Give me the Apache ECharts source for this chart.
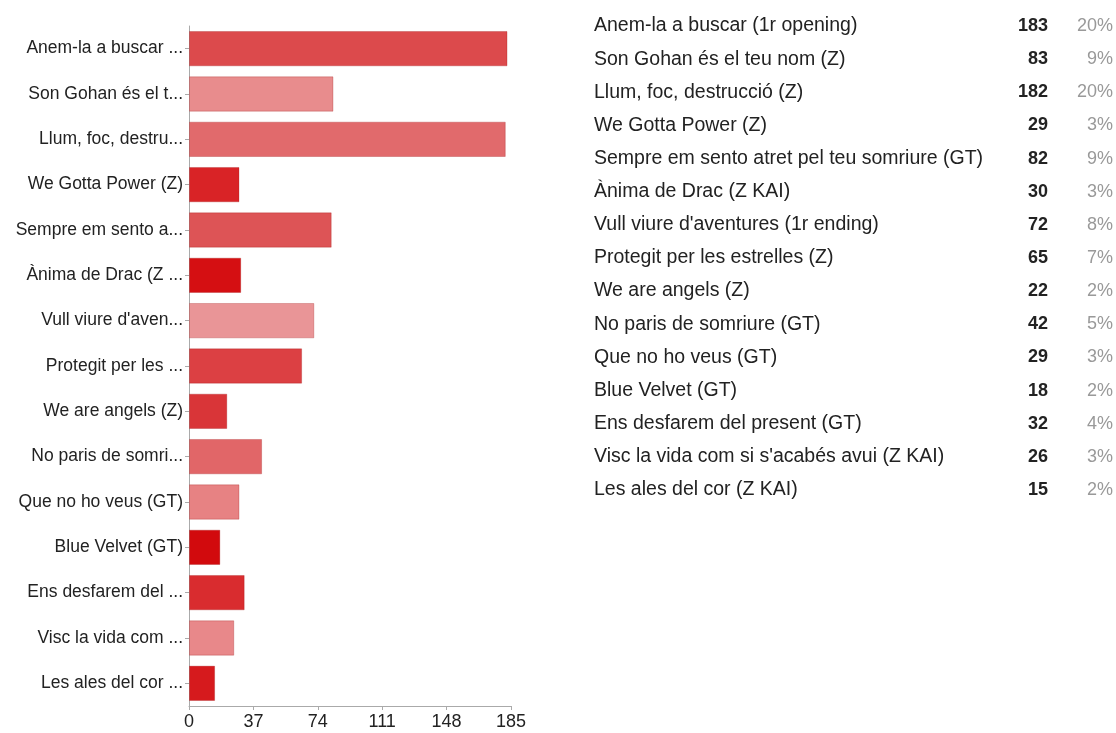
<!DOCTYPE html>
<html>
<head>
<meta charset="utf-8">
<script src="https://cdn.jsdelivr.net/npm/echarts@6/dist/echarts.min.js"></script>
<style>html,body{margin:0;padding:0;background:#fff}#c{width:1116px;height:733px}</style>
</head>
<body>
<div id="c"></div>
<script>
const shortLabels = ["Anem-la a buscar ...","Son Gohan és el t...","Llum, foc, destru...","We Gotta Power (Z)","Sempre em sento a...","Ànima de Drac (Z ...","Vull viure d'aven...","Protegit per les ...","We are angels (Z)","No paris de somri...","Que no ho veus (GT)","Blue Velvet (GT)","Ens desfarem del ...","Visc la vida com ...","Les ales del cor ..."];
const fullNames = ["Anem-la a buscar (1r opening)","Son Gohan és el teu nom (Z)","Llum, foc, destrucció (Z)","We Gotta Power (Z)","Sempre em sento atret pel teu somriure (GT)","Ànima de Drac (Z KAI)","Vull viure d'aventures (1r ending)","Protegit per les estrelles (Z)","We are angels (Z)","No paris de somriure (GT)","Que no ho veus (GT)","Blue Velvet (GT)","Ens desfarem del present (GT)","Visc la vida com si s'acabés avui (Z KAI)","Les ales del cor (Z KAI)"];
const votes = [183,83,182,29,82,30,72,65,22,42,29,18,32,26,15];
const percents = ["20%","9%","20%","3%","9%","3%","8%","7%","2%","5%","3%","2%","4%","3%","2%"];
const xTicks = [0,37,74,111,148,185];
const barColors = ["#dc4a4c","#e88c8d","#e16a6c","#d92326","#dd5456","#d50f12","#e99597","#dc4043","#d93538","#e16668","#e78283","#d20a0d","#d92c2f","#e8888a","#d61a1d"];

const FONT = '"Liberation Sans", Arial, sans-serif';
const chart = echarts.init(document.getElementById('c'));
const rowY0 = 26, rowStep = 33.14;
const graphics = [];
fullNames.forEach((n, i) => {
  const y = rowY0 + rowStep * i;
  graphics.push({type:'text', x:594, y:y, style:{text:n, font:'19.5px ' + FONT, fill:'#222', align:'left', verticalAlign:'middle'}});
  graphics.push({type:'text', x:1048, y:y, style:{text:String(votes[i]), font:'bold 18px ' + FONT, fill:'#222', align:'right', verticalAlign:'middle'}});
  graphics.push({type:'text', x:1113, y:y, style:{text:percents[i], font:'18px ' + FONT, fill:'#999', align:'right', verticalAlign:'middle'}});
});

chart.setOption({
  animation:false,
  grid:{left:189, right:605, top:26, bottom:27, containLabel:false},
  xAxis:{type:'value', min:xTicks[0], max:xTicks[xTicks.length-1], interval:xTicks[1]-xTicks[0],
    axisLine:{show:true, lineStyle:{color:'#aaa'}}, axisTick:{show:true, length:4, lineStyle:{color:'#aaa'}},
    splitLine:{show:false},
    axisLabel:{color:'#222', fontSize:18, fontFamily:FONT, margin:7}},
  yAxis:{type:'category', inverse:true, data:shortLabels,
    axisLine:{show:true, lineStyle:{color:'#aaa'}}, axisTick:{show:true, alignWithLabel:true, length:4, lineStyle:{color:'#aaa'}},
    axisLabel:{color:'#222', fontSize:17.5, fontFamily:FONT, margin:6}},
  series:[{type:'bar', data:votes.map((v,i)=>({value:v, itemStyle:{color:barColors[i], borderColor:'rgba(150,0,0,0.25)', borderWidth:1}})),
    barCategoryGap:'22%'}],
  graphic:graphics
});
</script>
</body>
</html>
